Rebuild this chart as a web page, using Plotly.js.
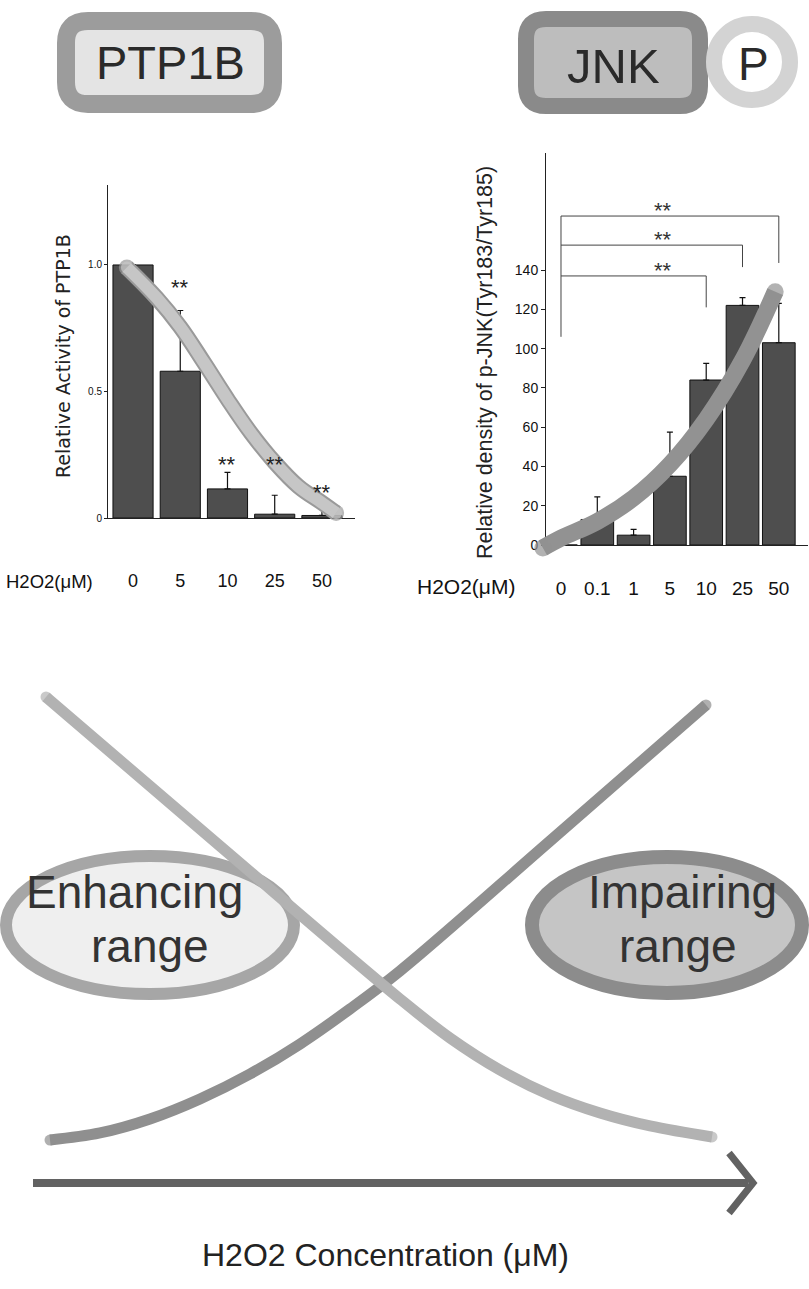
<!DOCTYPE html>
<html>
<head>
<meta charset="utf-8">
<script src="https://cdn.plot.ly/plotly-3.0.1.min.js"></script>
<style>html,body{margin:0;padding:0;background:#fff;}#chart{width:809px;height:1289px;}</style>
</head>
<body>
<div id="chart"></div>
<script>
// ---------------- DATA ----------------
// Panel A: PTP1B activity vs H2O2 dose
const ptp1bDoses = ['0', '5', '10', '25', '50'];
const ptp1bActivity = [1.0, 0.58, 0.115, 0.015, 0.01];
const ptp1bErrPlus = [0, 0.24, 0.065, 0.075, 0.07];
const ptp1bSig = ['', '**', '**', '**', '**'];
// trend curve drawn over the PTP1B bars (x in category index units)
const ptp1bTrendX = [-0.13, 0.5, 1.0, 1.5, 2.0, 2.5, 3.0, 3.5, 4.0, 4.3];
const ptp1bTrendY = [0.99, 0.87, 0.755, 0.615, 0.47, 0.335, 0.22, 0.125, 0.06, 0.02];

// Panel B: p-JNK density vs H2O2 dose
const jnkDoses = ['0', '0.1', '1', '5', '10', '25', '50'];
const jnkDensity = [0, 13, 5, 35, 84, 122, 103];
const jnkErrPlus = [0, 11.5, 3, 22.5, 8.5, 4, 20];
const jnkTicks = [0, 20, 40, 60, 80, 100, 120, 140];
// significance brackets: from dose index 0 to these indices
const jnkBracketTo = [4, 5, 6];
const jnkBracketLevel = [137, 152.7, 167.5];
const jnkBracketDrop = [121, 141.5, 143.6];
const jnkBracketBase = 106;
const jnkBracketSig = ['**', '**', '**'];
const jnkTrendX = [-0.5, 0.0, 1.0, 2.0, 3.0, 4.0, 5.0, 5.9];
const jnkTrendY = [-1.5, 3.5, 12, 24, 41, 64, 94, 129];

// Panel C: schematic (relative concentration 0-100 vs relative level 0-100)
const ptp1bSchemeX = [5.69, 27.19, 49.44, 55.62, 61.80, 67.99, 74.17, 80.35, 88.01];
const ptp1bSchemeY = [98.48, 66.09, 32.83, 24.35, 17.39, 11.96, 8.04, 5.22, 2.83];
const jnkSchemeX = [6.18, 12.36, 18.54, 24.72, 30.90, 37.08, 43.26, 49.44, 67.99, 87.27];
const jnkSchemeY = [2.17, 3.70, 6.74, 11.09, 16.52, 23.04, 30.65, 38.91, 67.17, 96.74];

// ---------------- LAYOUT HELPERS ----------------
const W = 809, H = 1289;
const fx = px => px / W;
const fy = py => 1 - py / H;
const SANS = 'Liberation Sans, Arial, sans-serif';
const DEJA = 'DejaVu Sans, Liberation Sans, sans-serif';

// panel geometry in pixels
const A = {x0: 108, x1: 355, yTop: 185, yBot: 518, xr: [-0.53, 4.7], yr: [0, 1.316]};
const B = {x0: 546, x1: 808, yTop: 153, yBot: 545, xr: [-0.413, 6.804], yr: [0, 199.6]};

function ext(g, padL, padR, padB, padT) {
  const sx = (g.xr[1] - g.xr[0]) / (g.x1 - g.x0);
  const sy = (g.yr[1] - g.yr[0]) / (g.yBot - g.yTop);
  return {
    xd: [fx(g.x0 - padL), fx(g.x1 + padR)],
    xr: [g.xr[0] - padL * sx, g.xr[1] + padR * sx],
    yd: [fy(g.yBot + padB), fy(g.yTop - padT)],
    yr: [g.yr[0] - padB * sy, g.yr[1] + padT * sy]
  };
}
const Aext = ext(A, 14, 14, 14, 14);
const Bext = ext(B, 18, 0, 14, 14);

function rrect(x0, y0, x1, y1, r) {
  const X = v => fx(v).toFixed(5), Y = v => fy(v).toFixed(5);
  return `M${X(x0 + r)},${Y(y0)} L${X(x1 - r)},${Y(y0)} Q${X(x1)},${Y(y0)} ${X(x1)},${Y(y0 + r)} ` +
    `L${X(x1)},${Y(y1 - r)} Q${X(x1)},${Y(y1)} ${X(x1 - r)},${Y(y1)} L${X(x0 + r)},${Y(y1)} ` +
    `Q${X(x0)},${Y(y1)} ${X(x0)},${Y(y1 - r)} L${X(x0)},${Y(y0 + r)} Q${X(x0)},${Y(y0)} ${X(x0 + r)},${Y(y0)} Z`;
}
function txt(text, px, py, size, family, color, angle, yanchor) {
  return {text, x: fx(px), y: fy(py), xref: 'paper', yref: 'paper', showarrow: false,
    xanchor: 'center', yanchor: yanchor || 'middle', textangle: angle || 0, borderpad: 0,
    font: {size, family, color: color || '#111'}};
}
function endMarks(n, size) { const a = new Array(n).fill(0); a[0] = size; a[n - 1] = size; return a; }
function curve(x, y, xa, ya, color, width, smooth) {
  return {type: 'scatter', mode: 'lines+markers', x, y, xaxis: xa, yaxis: ya,
    line: {color, width, shape: 'spline', smoothing: smooth},
    marker: {color, size: endMarks(x.length, width), line: {width: 0}}, cliponaxis: false};
}

// ---------------- TRACES ----------------
const traces = [];
traces.push({
  type: 'bar', x: ptp1bDoses, y: ptp1bActivity, xaxis: 'x', yaxis: 'y', width: 0.85,
  marker: {color: '#4e4e4e', line: {color: '#111', width: 1}},
  error_y: {type: 'data', symmetric: false, array: ptp1bErrPlus, arrayminus: ptp1bErrPlus.map(() => 0),
    color: '#111', thickness: 1.2, width: 3}
});
traces.push({
  type: 'bar', x: jnkDoses, y: jnkDensity, xaxis: 'x2', yaxis: 'y2', width: 0.9,
  marker: {color: '#4e4e4e', line: {color: '#111', width: 1}},
  error_y: {type: 'data', symmetric: false, array: jnkErrPlus, arrayminus: jnkErrPlus.map(() => 0),
    color: '#111', thickness: 1.2, width: 3}
});
traces.push(curve(ptp1bTrendX, ptp1bTrendY, 'x3', 'y3', '#9a9a9a', 16, 1.1));
traces.push(curve(ptp1bTrendX, ptp1bTrendY, 'x3', 'y3', '#c6c6c6', 12, 1.1));
traces.push(curve(jnkTrendX, jnkTrendY, 'x4', 'y4', '#929292', 17, 1.1));
traces.push(curve(jnkSchemeX, jnkSchemeY, 'x5', 'y5', '#8f8f8f', 11, 1.0));
traces.push(curve(ptp1bSchemeX, ptp1bSchemeY, 'x5', 'y5', '#b2b2b2', 11, 1.0));

// ---------------- SHAPES ----------------
const shapes = [];
shapes.push({type: 'path', xref: 'paper', yref: 'paper', path: rrect(66, 21, 273, 104, 22),
  fillcolor: '#e4e4e4', line: {color: '#9c9c9c', width: 18}, layer: 'below'});
shapes.push({type: 'path', xref: 'paper', yref: 'paper', path: rrect(526, 19, 700, 106, 20),
  fillcolor: '#bdbdbd', line: {color: '#8a8a8a', width: 16}, layer: 'below'});
shapes.push({type: 'circle', xref: 'paper', yref: 'paper', x0: fx(752 - 38), x1: fx(752 + 38), y0: fy(62 + 38), y1: fy(62 - 38),
  fillcolor: '#ffffff', line: {color: '#d3d3d3', width: 16}, layer: 'below'});
shapes.push({type: 'circle', xref: 'paper', yref: 'paper', x0: fx(6), x1: fx(294), y0: fy(994), y1: fy(856),
  fillcolor: '#efefef', line: {color: '#a6a6a6', width: 12}, layer: 'below'});
shapes.push({type: 'circle', xref: 'paper', yref: 'paper', x0: fx(532), x1: fx(802), y0: fy(993), y1: fy(857),
  fillcolor: '#c5c5c5', line: {color: '#8c8c8c', width: 14}, layer: 'below'});
shapes.push({type: 'line', xref: 'paper', yref: 'paper', x0: fx(33), x1: fx(748), y0: fy(1183), y1: fy(1183),
  line: {color: '#626262', width: 8}});
shapes.push({type: 'path', xref: 'paper', yref: 'paper',
  path: `M${fx(729)},${fy(1153)} L${fx(753)},${fy(1183)} L${fx(729)},${fy(1213)}`,
  line: {color: '#626262', width: 7}});
jnkBracketTo.forEach((to, i) => {
  const lv = jnkBracketLevel[i];
  shapes.push({type: 'line', xref: 'x2', yref: 'y2', x0: 0, x1: to, y0: lv, y1: lv, line: {color: '#444', width: 1}});
  shapes.push({type: 'line', xref: 'x2', yref: 'y2', x0: to, x1: to, y0: lv, y1: jnkBracketDrop[i], line: {color: '#444', width: 1}});
});
shapes.push({type: 'line', xref: 'x2', yref: 'y2', x0: 0, x1: 0, y0: jnkBracketBase, y1: Math.max(...jnkBracketLevel),
  line: {color: '#444', width: 1}});

// ---------------- ANNOTATIONS ----------------
const ann = [];
ann.push(txt('PTP1B', 170, 63, 47, SANS, '#2a2a2a'));
ann.push(txt('JNK', 613, 66, 49, SANS, '#2a2a2a'));
ann.push(txt('P', 753, 64, 46, SANS, '#2a2a2a'));
ann.push(txt('Relative Activity of PTP1B', 63, 356, 19, DEJA, '#222', -90));
ann.push(txt('Relative density of p-JNK(Tyr183/Tyr185)', 485, 363, 21.5, SANS, '#222', -90));
ann.push(txt('H2O2(μM)', 49, 581, 18.5, SANS, '#111'));
ann.push(txt('H2O2(μM)', 466, 586, 21, SANS, '#111'));
const ptp1bStarOffset = [0, 0.11, 0.05, 0.14, 0.04];
ptp1bSig.forEach((s, i) => {
  if (!s) return;
  ann.push({text: s, x: i, y: ptp1bActivity[i] + ptp1bErrPlus[i] + ptp1bStarOffset[i] - 0.02,
    xref: 'x', yref: 'y', showarrow: false, xanchor: 'center', yanchor: 'middle',
    font: {size: 22, family: SANS, color: '#222'}});
});
jnkBracketSig.forEach((s, i) => {
  ann.push({text: s, x: 2.8, y: jnkBracketLevel[i] + 3, xref: 'x2', yref: 'y2', showarrow: false,
    xanchor: 'center', yanchor: 'middle', font: {size: 22, family: SANS, color: '#333'}});
});
// ellipse labels: stacked boxes meeting at a shared edge
ann.push(txt('Enhancing', 134, 919, 46, SANS, '#333', 0, 'bottom'));
ann.push(txt('range', 150, 919, 46, SANS, '#333', 0, 'top'));
ann.push(txt('Impairing', 682, 919, 46, SANS, '#333', 0, 'bottom'));
ann.push(txt('range', 678, 919, 46, SANS, '#333', 0, 'top'));
ann.push(txt('H2O2 Concentration (μM)', 385, 1255, 32, SANS, '#222'));

// ---------------- LAYOUT ----------------
const hidden = {visible: false, showgrid: false, zeroline: false, fixedrange: true};
const layout = {
  width: W, height: H, margin: {l: 0, r: 0, t: 0, b: 0},
  paper_bgcolor: '#ffffff', plot_bgcolor: 'rgba(0,0,0,0)', showlegend: false,
  xaxis: {domain: [fx(A.x0), fx(A.x1)], range: A.xr, type: 'category', anchor: 'y',
    showline: true, linecolor: '#222', linewidth: 1, ticks: '', showgrid: false, zeroline: false,
    tickfont: {size: 18, family: SANS, color: '#111'}, ticklabelstandoff: 46, fixedrange: true},
  yaxis: {domain: [fy(A.yBot), fy(A.yTop)], range: A.yr, anchor: 'x',
    showline: true, linecolor: '#222', linewidth: 1, ticks: 'outside', ticklen: 3, tickcolor: '#222',
    tickvals: [0, 0.5, 1.0], ticktext: ['0', '0.5', '1.0'], showgrid: false, zeroline: false,
    tickfont: {size: 10, family: SANS, color: '#111'}, fixedrange: true},
  xaxis2: {domain: [fx(B.x0), fx(B.x1)], range: B.xr, type: 'category', anchor: 'y2',
    showline: true, linecolor: '#222', linewidth: 1, ticks: '', showgrid: false, zeroline: false,
    tickfont: {size: 19, family: SANS, color: '#111'}, ticklabelstandoff: 26, fixedrange: true},
  yaxis2: {domain: [fy(B.yBot), fy(B.yTop)], range: B.yr, anchor: 'x2',
    showline: true, linecolor: '#222', linewidth: 1, ticks: 'outside', ticklen: 4, tickcolor: '#222',
    tickvals: jnkTicks, showgrid: false, zeroline: false,
    tickfont: {size: 14, family: SANS, color: '#111'}, fixedrange: true},
  xaxis3: Object.assign({domain: Aext.xd, range: Aext.xr, anchor: 'y3'}, hidden),
  yaxis3: Object.assign({domain: Aext.yd, range: Aext.yr, anchor: 'x3'}, hidden),
  xaxis4: Object.assign({domain: Bext.xd, range: Bext.xr, anchor: 'y4'}, hidden),
  yaxis4: Object.assign({domain: Bext.yd, range: Bext.yr, anchor: 'x4'}, hidden),
  xaxis5: Object.assign({domain: [0, 1], range: [0, 100], anchor: 'y5'}, hidden),
  yaxis5: Object.assign({domain: [fy(1170), fy(670)], range: [(1150 - 1170) / 4.6, (1150 - 670) / 4.6], anchor: 'x5'}, hidden),
  shapes: shapes,
  annotations: ann
};

Plotly.newPlot('chart', traces, layout, {displayModeBar: false, staticPlot: true});
</script>
</body>
</html>
